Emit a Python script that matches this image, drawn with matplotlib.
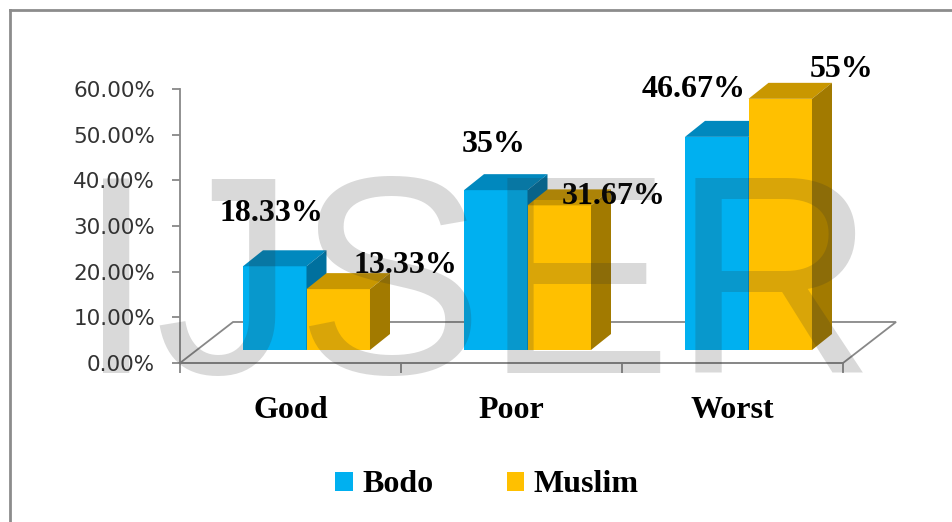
import matplotlib
matplotlib.use("Agg")
import matplotlib.pyplot as plt
from matplotlib.patches import Polygon, Patch
from matplotlib.lines import Line2D

categories = ["Good", "Poor", "Worst"]
bodo = [18.33, 35.0, 46.67]
muslim = [13.33, 31.67, 55.0]
bodo_labels = ["18.33%", "35%", "46.67%"]
muslim_labels = ["13.33%", "31.67%", "55%"]
series_names = ["Bodo", "Muslim"]
yticks = [0, 10, 20, 30, 40, 50, 60]
ytick_labels = ["0.00%", "10.00%", "20.00%", "30.00%", "40.00%", "50.00%", "60.00%"]

# ---- style ----
W, H, DPI = 952, 522, 100
C_BODO = ("#00B0F0", "#0088BE", "#00709E")     # front, top, side
C_MUS = ("#FFC000", "#C99700", "#A27A00")
AX_COL = "#888888"
FLOOR_DX, FLOOR_DY = 0.24, 8.98
BAR_SHIFT_X, BAR_SHIFT_Y = 0.0724, 2.85
DEPTH_DX, DEPTH_DY = 0.0905, 3.5
BAR_W = 0.2873
LBL_FS = 23
# label offsets in pixels (dx, dy) relative to the front-top centre of each bar
BODO_OFF = [(-3, 53), (-2, 46), (-23, 47)]
MUS_OFF = [(67, 24), (54, 9), (61, 29)]

fig = plt.figure(figsize=(W / DPI, H / DPI), dpi=DPI)
ax = fig.add_axes([180 / W, 1 - 363 / H, 663 / W, 274 / H])
ax.set_xlim(-0.5, 2.5)
ax.set_ylim(0, 60)

# floor
ax.add_patch(Polygon([(-0.5, 0), (2.5, 0), (2.5 + FLOOR_DX, FLOOR_DY), (-0.5 + FLOOR_DX, FLOOR_DY)],
                     closed=True, fill=False, edgecolor=AX_COL, lw=1.3, clip_on=False, zorder=1))


def bar3d(x0, v, colors, lab, off):
    b = BAR_SHIFT_Y
    x1 = x0 + BAR_W
    ax.bar([x0], [v], bottom=b, width=BAR_W, align="edge", color=colors[0], lw=0,
           zorder=3, clip_on=False)
    ax.add_patch(Polygon([(x0, b + v), (x1, b + v), (x1 + DEPTH_DX, b + v + DEPTH_DY),
                          (x0 + DEPTH_DX, b + v + DEPTH_DY)], closed=True, facecolor=colors[1],
                         lw=0, zorder=3, clip_on=False))
    ax.add_patch(Polygon([(x1, b), (x1, b + v), (x1 + DEPTH_DX, b + v + DEPTH_DY),
                          (x1 + DEPTH_DX, b + DEPTH_DY)], closed=True, facecolor=colors[2],
                         lw=0, zorder=3, clip_on=False))
    ax.annotate(lab, xy=(x0 + BAR_W / 2, b + v), xytext=off, textcoords="offset pixels",
                ha="center", va="center", fontsize=LBL_FS, fontweight="bold",
                family="Liberation Serif", color="black", zorder=6, annotation_clip=False)


for i in range(len(categories)):
    c = i + BAR_SHIFT_X
    bar3d(c - BAR_W, bodo[i], C_BODO, bodo_labels[i], BODO_OFF[i])
    bar3d(c, muslim[i], C_MUS, muslim_labels[i], MUS_OFF[i])
    ax.annotate(categories[i], xy=(i, 0), xytext=(0, -48), textcoords="offset pixels",
                ha="center", va="center", fontsize=LBL_FS, fontweight="bold",
                family="Liberation Serif", color="black", annotation_clip=False)

for s in ["top", "right"]:
    ax.spines[s].set_visible(False)
for s in ["left", "bottom"]:
    ax.spines[s].set_color(AX_COL)
    ax.spines[s].set_linewidth(1.3)
ax.set_facecolor("none")
ax.set_yticks(yticks)
ax.set_yticklabels(ytick_labels, family="DejaVu Sans", fontsize=15.5, color="#333333")
ax.set_xticks([-0.5, 0.5, 1.5, 2.5])
ax.set_xticklabels([])
ax.tick_params(axis="y", direction="out", length=6, width=1.3, color=AX_COL, pad=12)
ax.tick_params(axis="x", direction="out", length=7, width=1.3, color=AX_COL)

# legend
handles = [Patch(facecolor=C_BODO[0]), Patch(facecolor=C_MUS[0])]
fig.legend(handles, series_names, loc="center", bbox_to_anchor=(487 / W, 1 - 485 / H),
           ncol=2, frameon=False, handlelength=0.55, handleheight=0.55, handletextpad=0.3,
           columnspacing=2.3, prop={"family": "Liberation Serif", "weight": "bold", "size": LBL_FS})

# outer frame (partially visible)
fig.add_artist(Line2D([10 / W, 1], [1 - 10 / H, 1 - 10 / H], transform=fig.transFigure,
                      color="#8C8C8C", lw=2))
fig.add_artist(Line2D([10 / W, 10 / W], [0, 1 - 10 / H], transform=fig.transFigure,
                      color="#8C8C8C", lw=2))

# watermark
fig.text(77 / W, 1 - 373 / H, "IJSER", family="Liberation Sans", fontsize=203,
         color="#2D2D2D", alpha=0.18, ha="left", va="baseline", zorder=10)

fig.savefig("out.png", dpi=DPI)
